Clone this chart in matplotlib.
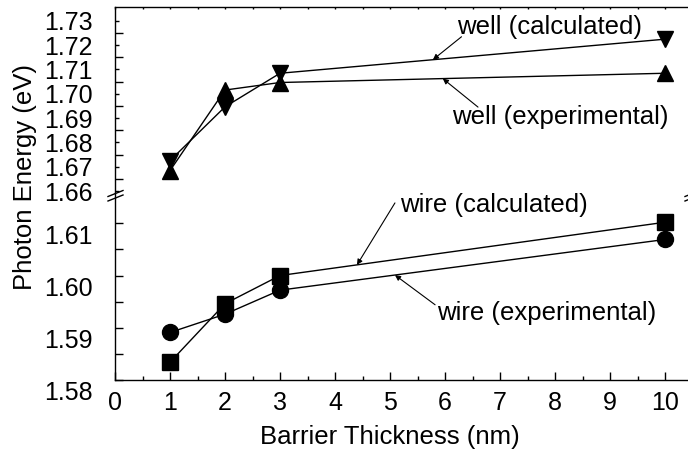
import numpy as np
import matplotlib
matplotlib.use("Agg")
import matplotlib.pyplot as plt
from matplotlib.lines import Line2D
from matplotlib.transforms import ScaledTranslation

# barrier thickness (nm)
thickness = [1, 2, 3, 10]

# well, photon energy (eV)
well_calc = [1.6725, 1.6946, 1.7084, 1.7224]
well_exp = [1.6684, 1.7015, 1.7046, 1.7084]

# wire, photon energy (eV)
wire_calc = [1.5834, 1.5946, 1.6000, 1.6102]
wire_exp = [1.5891, 1.5926, 1.5972, 1.6069]

top_major = [1.66, 1.67, 1.68, 1.69, 1.70, 1.71, 1.72, 1.73]
top_minor = [1.665, 1.675, 1.685, 1.695, 1.705, 1.715, 1.725]
bot_major = [1.58, 1.59, 1.60, 1.61]
bot_minor = [1.585, 1.595, 1.605]

plt.rcParams['font.family'] = ['Liberation Sans', 'DejaVu Sans']
plt.rcParams['axes.linewidth'] = 1.0

W, H = 688, 453
fig = plt.figure(figsize=(W/100, H/100), dpi=100)

left = 115/W
width = 577.5/W
ax_top = fig.add_axes([left, 1-193/H, width, (193-7.3)/H])
ax_bot = fig.add_axes([left, 1-380/H, width, (380-193)/H])

ms = 11.5
ax_top.plot(thickness, well_calc, 'k-', lw=1.0, marker='v', ms=ms)
ax_top.plot(thickness, well_exp, 'k-', lw=1.0, marker='^', ms=ms)
ax_bot.plot(thickness, wire_calc, 'k-', lw=1.0, marker='s', ms=ms)
ax_bot.plot(thickness, wire_exp, 'k-', lw=1.0, marker='o', ms=ms)

for ax in (ax_top, ax_bot):
    ax.set_xlim(0, 10.5)
    ax.spines['right'].set_visible(False)
    ax.set_xticks(range(0, 11))
    ax.set_xticks(np.arange(0.5, 10.5, 1.0), minor=True)

ax_top.set_ylim(1.6592, 1.7355)
ax_bot.set_ylim(1.58, 1.6158)

ax_top.spines['bottom'].set_visible(False)
ax_bot.spines['top'].set_visible(False)

tick_fs = 18

# top panel
ax_top.set_yticks(top_major)
ax_top.set_yticks(top_minor, minor=True)
ax_top.set_yticklabels([f"{v:.2f}" for v in top_major])
ax_top.tick_params(axis='y', which='major', direction='in', length=3.1, width=1.0,
                   labelsize=tick_fs, pad=16)
ax_top.tick_params(axis='y', which='minor', direction='in', length=5.8, width=1.0)
ax_top.tick_params(axis='x', which='both', direction='in', length=1.5, width=1.0,
                   bottom=False, top=True, labelbottom=False, labeltop=False)

# bottom panel
ax_bot.set_yticks(bot_major)
ax_bot.set_yticks(bot_minor, minor=True)
ax_bot.set_yticklabels([f"{v:.2f}" for v in bot_major])
ax_bot.tick_params(axis='y', which='both', direction='in', length=5.8, width=1.0,
                   labelsize=tick_fs, pad=16)
ax_bot.tick_params(axis='x', which='major', direction='in', length=5.8, width=1.0,
                   labelsize=tick_fs, pad=8, top=False)
ax_bot.tick_params(axis='x', which='minor', direction='in', length=3.0, width=1.0,
                   top=False)
# labels sit a bit below their ticks in the original
shift = ScaledTranslation(0, -11/100, fig.dpi_scale_trans)
for lab in ax_bot.get_yticklabels():
    lab.set_transform(lab.get_transform() + shift)

fs = 18.5
fig.text(25/W, 1-177/H, 'Photon Energy (eV)', rotation=90, ha='center',
         va='center', fontsize=fs)
fig.text(390/W, 1-437/H, 'Barrier Thickness (nm)', ha='center', va='center',
         fontsize=fs)

# annotations
arrow = dict(arrowstyle='-|>', lw=0.8, color='k', mutation_scale=8,
             shrinkA=0, shrinkB=0)


def label(ax, text, tip_x, ys, text_xy, start_xy):
    tip = (tip_x, np.interp(tip_x, thickness, ys))
    ax.annotate('', xy=tip, xytext=start_xy, arrowprops=arrow)
    ax.text(text_xy[0], text_xy[1], text, fontsize=fs, ha='left', va='center')


label(ax_top, 'well (calculated)', 5.78, well_calc, (6.22, 1.7274), (6.30, 1.7234))
label(ax_top, 'well (experimental)', 5.96, well_exp, (6.12, 1.6905), (6.60, 1.6945))
label(ax_bot, 'wire (calculated)', 4.40, wire_calc, (5.19, 1.6135), (5.09, 1.6139))
label(ax_bot, 'wire (experimental)', 5.09, wire_exp, (5.85, 1.5928), (5.82, 1.5944))

# axis break marks
for xc in (115, 692):
    for yc in (193.5, 198):
        fig.add_artist(Line2D([(xc-7)/W, (xc+8)/W], [1-(yc+3)/H, 1-(yc-3)/H],
                              color='k', lw=1.0))

fig.savefig('out.png', dpi=100)
